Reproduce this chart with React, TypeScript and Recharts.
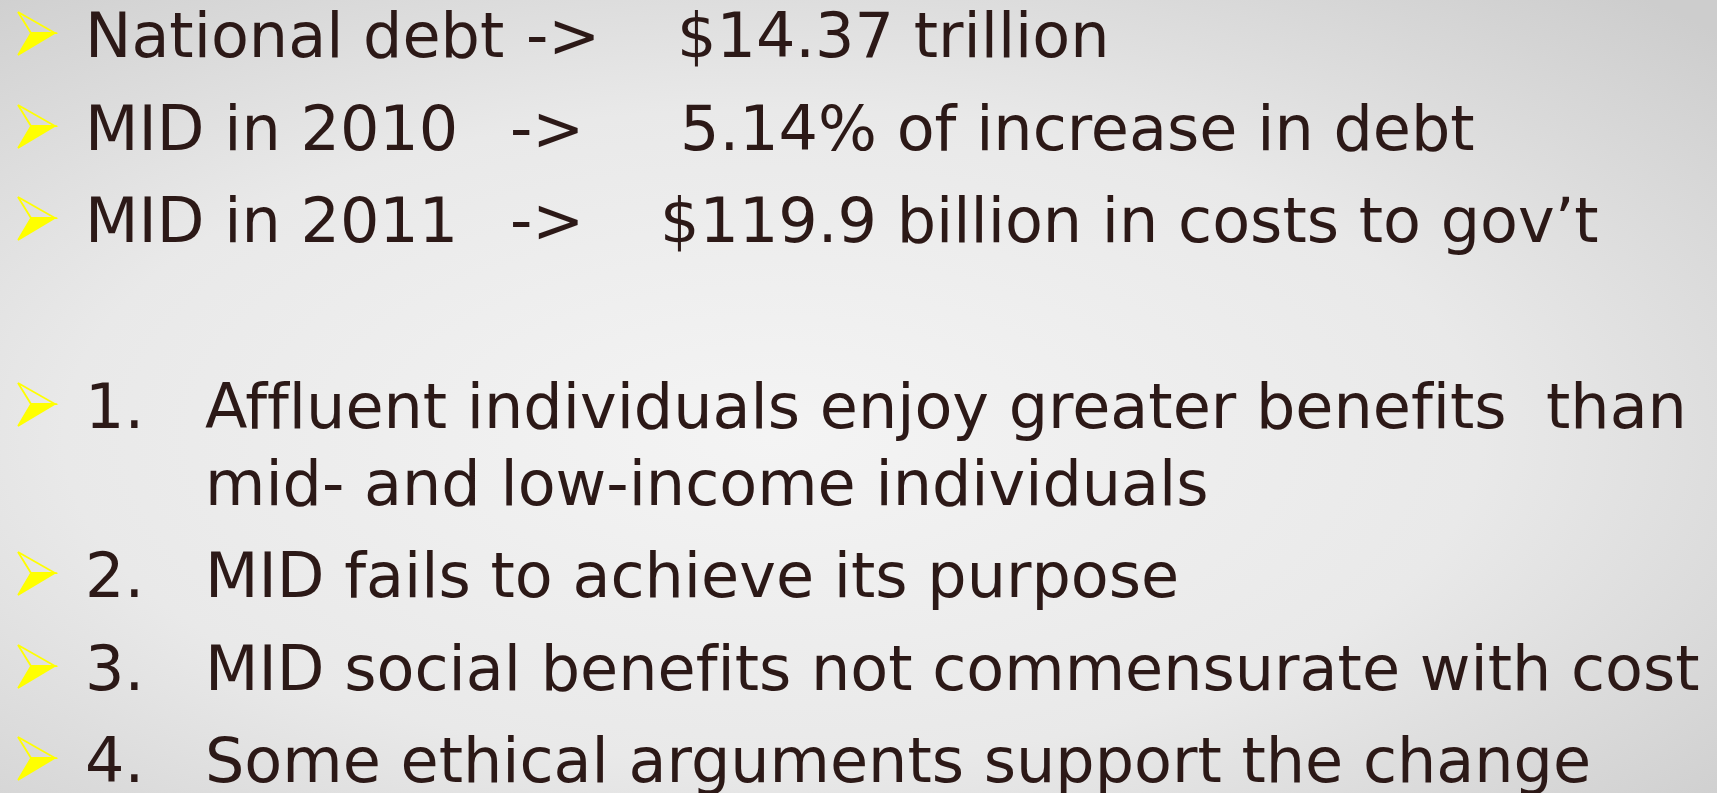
import React from 'react';
import { Surface, Text, Polygon } from 'recharts';

// slide content
const factLabels = ['National debt', 'MID in 2010', 'MID in 2011'];
const factValues = ['$14.37 trillion', '5.14% of increase in debt', '$119.9 billion in costs to gov\u2019t'];
const reasonNumbers = ['1.', '2.', '3.', '4.'];
const reasonLines = [
  ['Affluent individuals enjoy greater benefits\u00A0 than', 'mid- and low-income individuals'],
  ['MID fails to achieve its purpose'],
  ['MID social benefits not commensurate with cost'],
  ['Some ethical arguments support the change'],
];

// layout (px)
const W = 1717;
const H = 793;
const FONT = '"DejaVu Sans", Verdana, sans-serif';
const FONT_SIZE = 62;
const TEXT_COLOR = '#2c1917';
const FACT_BASELINES = [57, 150, 242];
const FACT_ARROW_X = [526, 510, 510];
const FACT_VALUE_X = [677, 680, 660];
const REASON_BASELINES = [428, 597, 690, 782];
const WRAP_GAP = 77;
const LEFT_X = 85;
const REASON_TEXT_X = 205;

const Bullet = ({ baseline }: { baseline: number }) => {
  const top = { x: 18, y: baseline - 45 };
  const tip = { x: 55, y: baseline - 24 };
  const bottom = { x: 18, y: baseline - 2 };
  const notch = { x: 31, y: baseline - 24 };
  return (
    <g>
      <Polygon points={[notch, tip, bottom]} fill="#ffff00" stroke="#ffff00" strokeWidth={1.5} />
      <Polygon points={[top, tip, notch]} fill="none" stroke="#ffff00" strokeWidth={1.8} strokeLinejoin="miter" />
    </g>
  );
};

const textProps = {
  fontFamily: FONT,
  fontSize: FONT_SIZE,
  fill: TEXT_COLOR,
  verticalAnchor: 'end' as const,
  textAnchor: 'start' as const,
  style: { fontVariantLigatures: 'none' },
};

export default function App() {
  return (
    <div style={{ width: W, height: H, overflow: 'hidden' }}>
      <style>{`body{margin:0}`}</style>
      <Surface width={W} height={H}>
        <defs>
          <radialGradient id="slideBg" cx="0.45" cy="0.55" r="0.75" fx="0.45" fy="0.55">
            <stop offset="0" stopColor="#f4f4f4" />
            <stop offset="0.55" stopColor="#e9e9e9" />
            <stop offset="1" stopColor="#cdcdcd" />
          </radialGradient>
        </defs>
        <rect x={0} y={0} width={W} height={H} fill="url(#slideBg)" />

        {factLabels.map((label, i) => (
          <g key={label}>
            <Bullet baseline={FACT_BASELINES[i]} />
            <Text x={LEFT_X} y={FACT_BASELINES[i]} {...textProps}>{label}</Text>
            <Text x={FACT_ARROW_X[i]} y={FACT_BASELINES[i]} {...textProps}>{'->'}</Text>
            <Text x={FACT_VALUE_X[i]} y={FACT_BASELINES[i]} {...textProps}>{factValues[i]}</Text>
          </g>
        ))}

        {reasonNumbers.map((num, i) => (
          <g key={num}>
            <Bullet baseline={REASON_BASELINES[i]} />
            <Text x={LEFT_X} y={REASON_BASELINES[i]} {...textProps}>{num}</Text>
            {reasonLines[i].map((line, j) => (
              <Text key={j} x={REASON_TEXT_X} y={REASON_BASELINES[i] + j * WRAP_GAP} {...textProps}>
                {line}
              </Text>
            ))}
          </g>
        ))}
      </Surface>
    </div>
  );
}
